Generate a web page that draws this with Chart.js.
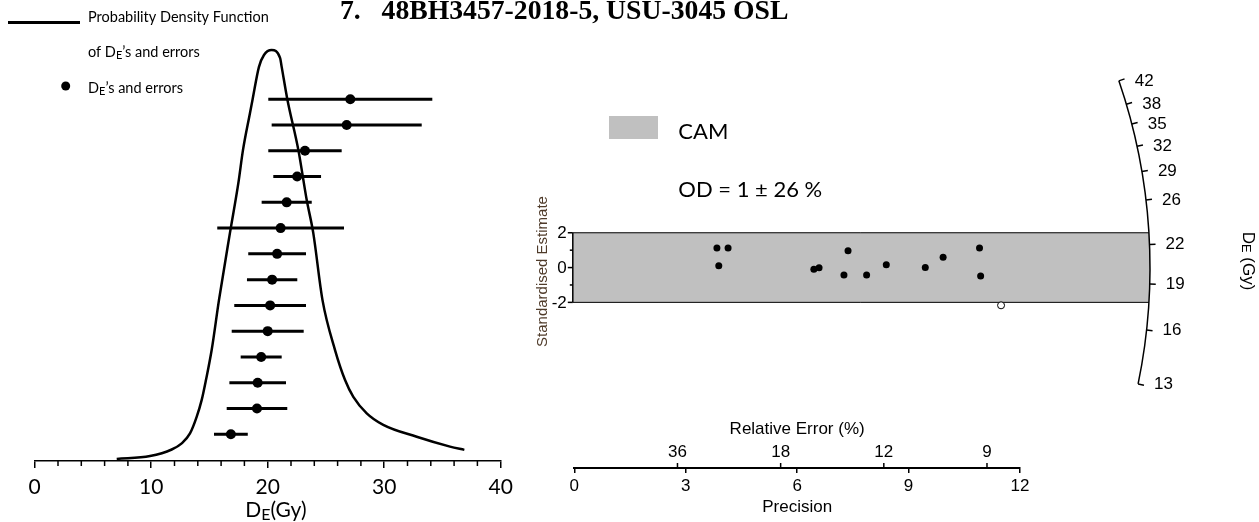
<!DOCTYPE html>
<html>
<head>
<meta charset="utf-8">
<script src="https://cdn.jsdelivr.net/npm/chart.js@4.4.1/dist/chart.umd.min.js"></script>
<style>
  html, body { margin: 0; padding: 0; background: #fff; }
  #wrap { position: relative; width: 1259px; height: 522px; }
  #wrap canvas { position: absolute; left: 0; top: 0; }
</style>
</head>
<body>
<div id="wrap">
  <canvas id="pdfChart" width="1259" height="522"></canvas>
  <canvas id="radialChart" width="1259" height="522"></canvas>
</div>
<script>
'use strict';

const title = '7.   48BH3457-2018-5, USU-3045 OSL';

// left panel: equivalent doses and errors (Gy), top row first
const deValues = [27.09, 26.78, 23.2, 22.53, 21.63, 21.11, 20.81, 20.38, 20.21, 20.0, 19.44, 19.14, 19.08, 16.84];
const deErrors = [7.04, 6.44, 3.15, 2.05, 2.15, 5.44, 2.48, 2.16, 3.08, 3.09, 1.76, 2.43, 2.6, 1.45];

// probability density curve (dose, height relative to the peak)
const pdfDose = [7.04, 9.9, 11.76, 12.62, 13.33, 13.91, 14.33, 14.7, 15.19, 15.82, 16.76, 17.48, 17.88, 18.48, 18.71, 19.25, 19.68,
  20.34, 21.06, 21.2, 21.68, 22.63, 23.35, 23.91, 24.7, 25.78, 26.64, 27.35, 28.5, 29.92, 32.79, 35.65, 36.88];
const pdfHeight = [0.005, 0.012, 0.028, 0.043, 0.067, 0.108, 0.148, 0.197, 0.27, 0.392, 0.555, 0.676, 0.757, 0.847, 0.881, 0.959, 0.988,
  1.0, 0.981, 0.959, 0.881, 0.757, 0.635, 0.555, 0.392, 0.27, 0.197, 0.156, 0.116, 0.088, 0.059, 0.035, 0.027];

const doseTicks = [0, 10, 20, 30, 40];
const doseMinorStep = 2;

// right panel: radial plot
const precision = [3.84, 4.14, 3.89, 6.45, 6.59, 7.26, 7.37, 7.87, 8.4, 9.45, 9.93, 10.91, 10.94, 11.49];
const stdEstimate = [1.13, 1.13, 0.1, -0.1, -0.01, -0.43, 0.97, -0.43, 0.16, 0.01, 0.59, 1.13, -0.49, -2.17];
const precisionTicks = [0, 3, 6, 9, 12];
const relErrorTicks = [36, 18, 12, 9];
const stdTicks = [-2, 0, 2];
const stdMinorTicks = [-1, 1];
const arcTicks = [42, 38, 35, 32, 29, 26, 22, 19, 16, 13];
const camDe = 20.2;
const bandHalf = 2;
const arcRadius = 15.5; // in precision units
const odText = 'OD = 1 \u00b1 26 %';

const CAL = 'Lato, "Open Sans", sans-serif';
const ARIAL = '"Liberation Sans", Arial, sans-serif';

// text with a lowered small capital E, as in D_E
function drawSubE(ctx, x, y, before, after, size, family, align) {
  const big = size + 'px ' + family;
  const small = Math.round(size * 0.78) + 'px ' + family;
  ctx.font = big;
  const w1 = ctx.measureText(before).width;
  const w3 = ctx.measureText(after).width;
  ctx.font = small;
  const w2 = ctx.measureText('E').width;
  const x0 = align === 'center' ? x - (w1 + w2 + w3) / 2 : x;
  ctx.textAlign = 'left';
  ctx.font = big;
  ctx.fillText(before, x0, y);
  ctx.font = small;
  ctx.fillText('E', x0 + w1, y + size * 0.16);
  ctx.font = big;
  ctx.fillText(after, x0 + w1 + w2, y);
}

// ---------- left chart ----------
const n = deValues.length;
const rowOf = i => n - i;

const dosePoints = deValues.map((v, i) => ({x: v, y: rowOf(i)}));
const errorSegments = [];
deValues.forEach((v, i) => {
  errorSegments.push({x: v - deErrors[i], y: rowOf(i)});
  errorSegments.push({x: v + deErrors[i], y: rowOf(i)});
  errorSegments.push({x: null, y: null});
});
const pdfLine = pdfDose.map((d, i) => ({x: d, y: pdfHeight[i]}));

const leftDecor = {
  id: 'leftDecor',
  afterDraw(chart) {
    const {ctx, scales: {x}} = chart;
    const axisY = chart.chartArea.bottom;
    ctx.save();
    ctx.fillStyle = '#000';
    ctx.strokeStyle = '#000';

    // minor ticks
    ctx.lineWidth = 1.5;
    for (let v = doseTicks[0]; v <= doseTicks[doseTicks.length - 1]; v += doseMinorStep) {
      if (doseTicks.includes(v)) continue;
      const px = x.getPixelForValue(v);
      ctx.beginPath();
      ctx.moveTo(px, axisY);
      ctx.lineTo(px, axisY + 5);
      ctx.stroke();
    }

    // axis title
    ctx.textBaseline = 'alphabetic';
    drawSubE(ctx, x.getPixelForValue(20.7), 516.5, 'D', '(Gy)', 21, CAL, 'center');

    // main title
    ctx.font = 'bold 27.7px "Liberation Serif", "Times New Roman", serif';
    ctx.textAlign = 'left';
    ctx.fillText(title, 340, 18.5);

    // legend
    ctx.lineWidth = 3;
    ctx.beginPath();
    ctx.moveTo(8, 22.5);
    ctx.lineTo(80, 22.5);
    ctx.stroke();
    ctx.font = '14.5px ' + CAL;
    ctx.fillText('Probability Density Function', 88, 21.5);
    drawSubE(ctx, 88, 57, 'of D', '\u2019s and errors', 14.5, CAL, 'left');
    ctx.beginPath();
    ctx.arc(65.7, 86, 4.5, 0, Math.PI * 2);
    ctx.fill();
    drawSubE(ctx, 88, 93, 'D', '\u2019s and errors', 14.5, CAL, 'left');
    ctx.restore();
  }
};

new Chart(document.getElementById('pdfChart'), {
  type: 'line',
  data: {
    datasets: [
      {
        data: dosePoints,
        yAxisID: 'yRow',
        showLine: false,
        pointRadius: 5,
        pointBackgroundColor: '#000',
        pointBorderWidth: 0,
        order: 0
      },
      {
        data: errorSegments,
        yAxisID: 'yRow',
        borderColor: '#000',
        borderWidth: 3,
        pointRadius: 0,
        spanGaps: false,
        tension: 0,
        order: 1
      },
      {
        data: pdfLine,
        yAxisID: 'yPdf',
        borderColor: '#000',
        borderWidth: 2.5,
        pointRadius: 0,
        cubicInterpolationMode: 'monotone',
        order: 2
      }
    ]
  },
  options: {
    responsive: false,
    animation: false,
    layout: { padding: { left: 34.7, right: 1259 - 500.7, top: 30, bottom: 0 } },
    plugins: { legend: { display: false }, tooltip: { enabled: false } },
    scales: {
      x: {
        type: 'linear',
        min: doseTicks[0],
        max: doseTicks[doseTicks.length - 1],
        afterBuildTicks: s => { s.ticks = doseTicks.map(v => ({value: v})); },
        ticks: { color: '#000', font: { family: CAL, size: 21 }, padding: 7 },
        grid: { drawOnChartArea: false, tickLength: 7, color: '#000', lineWidth: 1.5 },
        border: { color: '#000', width: 1.5 },
        afterFit: s => { s.height = 61; }
      },
      yRow: { type: 'linear', display: false, min: -0.04, max: 16.69 },
      yPdf: { type: 'linear', display: false, min: 0, max: 1.0487 }
    }
  },
  plugins: [leftDecor]
});

// ---------- right chart ----------
const radialPoints = precision.map((p, i) => ({x: p, y: stdEstimate[i]}));

const radialDecor = {
  id: 'radialDecor',
  beforeDatasetsDraw(chart) {
    const {ctx, scales: {x, y}} = chart;
    const cx = x.getPixelForValue(0);
    const cy = y.getPixelForValue(0);
    const R = x.getPixelForValue(arcRadius) - cx;
    const yTop = y.getPixelForValue(bandHalf);
    const yBot = y.getPixelForValue(-bandHalf);
    const a = Math.asin((cy - yTop) / R);
    const xl = cx - 1.5;
    ctx.save();
    ctx.beginPath();
    ctx.moveTo(xl, yTop);
    ctx.lineTo(cx + R * Math.cos(a), yTop);
    ctx.arc(cx, cy, R, -a, a);
    ctx.lineTo(xl, yBot);
    ctx.closePath();
    ctx.fillStyle = '#c0c0c0';
    ctx.fill();
    ctx.strokeStyle = '#000';
    ctx.lineWidth = 1;
    ctx.beginPath();
    ctx.moveTo(xl, yTop);
    ctx.lineTo(cx + R * Math.cos(a), yTop);
    ctx.moveTo(xl, yBot);
    ctx.lineTo(cx + R * Math.cos(a), yBot);
    ctx.stroke();

    // y axis, only over the band
    ctx.lineWidth = 1.5;
    ctx.beginPath();
    ctx.moveTo(xl, y.getPixelForValue(stdTicks[stdTicks.length - 1]));
    ctx.lineTo(xl, y.getPixelForValue(stdTicks[0]));
    ctx.stroke();
    stdTicks.forEach(v => {
      const py = y.getPixelForValue(v);
      ctx.beginPath();
      ctx.moveTo(xl, py);
      ctx.lineTo(xl - 5, py);
      ctx.stroke();
    });
    stdMinorTicks.forEach(v => {
      const py = y.getPixelForValue(v);
      ctx.beginPath();
      ctx.moveTo(xl, py);
      ctx.lineTo(xl - 3, py);
      ctx.stroke();
    });
    ctx.fillStyle = '#000';
    ctx.font = '17px ' + ARIAL;
    ctx.textAlign = 'right';
    ctx.textBaseline = 'middle';
    stdTicks.forEach(v => ctx.fillText(String(v), xl - 6, y.getPixelForValue(v) + 1));
    ctx.restore();
  },
  afterDraw(chart) {
    const {ctx, scales: {x, y}} = chart;
    const cx = x.getPixelForValue(0);
    const cy = y.getPixelForValue(0);
    const R = x.getPixelForValue(arcRadius) - cx;
    const unitX = x.getPixelForValue(1) - cx;
    const angleOf = v => Math.atan2(y.getPixelForValue(Math.log(v) - Math.log(camDe)) - cy, unitX);

    ctx.save();
    ctx.strokeStyle = '#000';
    ctx.fillStyle = '#000';

    // De arc axis
    const angles = arcTicks.map(angleOf);
    ctx.lineWidth = 1.5;
    ctx.beginPath();
    ctx.arc(cx, cy, R, Math.min(...angles), Math.max(...angles));
    ctx.stroke();
    ctx.font = '17px ' + ARIAL;
    ctx.textAlign = 'left';
    ctx.textBaseline = 'middle';
    arcTicks.forEach((v, i) => {
      const t = angles[i];
      const px = cx + R * Math.cos(t);
      const py = cy + R * Math.sin(t);
      ctx.beginPath();
      ctx.moveTo(px, py);
      ctx.lineTo(px + 6 * Math.cos(t), py + 6 * Math.sin(t));
      ctx.stroke();
      ctx.fillText(String(v), px + 16, py);
    });

    // relative error ticks on top of the precision axis
    const axisY = chart.chartArea.bottom;
    ctx.font = '17px ' + ARIAL;
    ctx.textAlign = 'center';
    ctx.lineWidth = 1.5;
    relErrorTicks.forEach(r => {
      const px = x.getPixelForValue(100 / r);
      ctx.beginPath();
      ctx.moveTo(px, axisY);
      ctx.lineTo(px, axisY - 5);
      ctx.stroke();
      ctx.fillText(String(r), px, 452);
    });
    ctx.fillText('Relative Error (%)', (chart.chartArea.left + chart.chartArea.right) / 2, 429.5);

    // axis titles
    ctx.save();
    ctx.translate(543, 271.5);
    ctx.rotate(-Math.PI / 2);
    ctx.fillStyle = '#4f3b2a';
    ctx.font = '15px ' + ARIAL;
    ctx.fillText('Standardised Estimate', 0, 0);
    ctx.restore();

    ctx.save();
    ctx.translate(1248, 261);
    ctx.rotate(Math.PI / 2);
    drawSubE(ctx, 0, 0, 'D', ' (Gy)', 17, ARIAL, 'center');
    ctx.restore();

    // CAM legend
    ctx.fillStyle = '#c0c0c0';
    ctx.fillRect(609, 116, 49, 23);
    ctx.fillStyle = '#000';
    ctx.font = '22px ' + CAL;
    ctx.textAlign = 'left';
    ctx.textBaseline = 'alphabetic';
    ctx.fillText('CAM', 678.3, 139.3);
    ctx.fillText(odText, 678.3, 196.7);
    ctx.restore();
  }
};

new Chart(document.getElementById('radialChart'), {
  type: 'scatter',
  data: {
    datasets: [{
      data: radialPoints,
      pointRadius: 3.5,
      pointBackgroundColor: c => Math.abs(stdEstimate[c.dataIndex]) > bandHalf ? '#fff' : '#000',
      pointBorderColor: '#000',
      pointBorderWidth: c => Math.abs(stdEstimate[c.dataIndex]) > bandHalf ? 1 : 0
    }]
  },
  options: {
    responsive: false,
    animation: false,
    layout: { padding: { left: 574.3, right: 1259 - 1020, top: 40, bottom: 0 } },
    plugins: { legend: { display: false }, tooltip: { enabled: false } },
    scales: {
      x: {
        type: 'linear',
        min: precisionTicks[0],
        max: precisionTicks[precisionTicks.length - 1],
        afterBuildTicks: s => { s.ticks = precisionTicks.map(v => ({value: v})); },
        ticks: { color: '#000', font: { family: ARIAL, size: 17 }, padding: 3 },
        grid: { drawOnChartArea: false, tickLength: 5, color: '#000', lineWidth: 1.5 },
        border: { color: '#000', width: 2 },
        title: { display: true, text: 'Precision', color: '#000', font: { family: ARIAL, size: 17 }, padding: { top: 0, bottom: 4 } },
        afterFit: s => { s.height = 54; }
      },
      y: { type: 'linear', display: false, min: -11.52, max: 13.08 }
    }
  },
  plugins: [radialDecor]
});
</script>
</body>
</html>
